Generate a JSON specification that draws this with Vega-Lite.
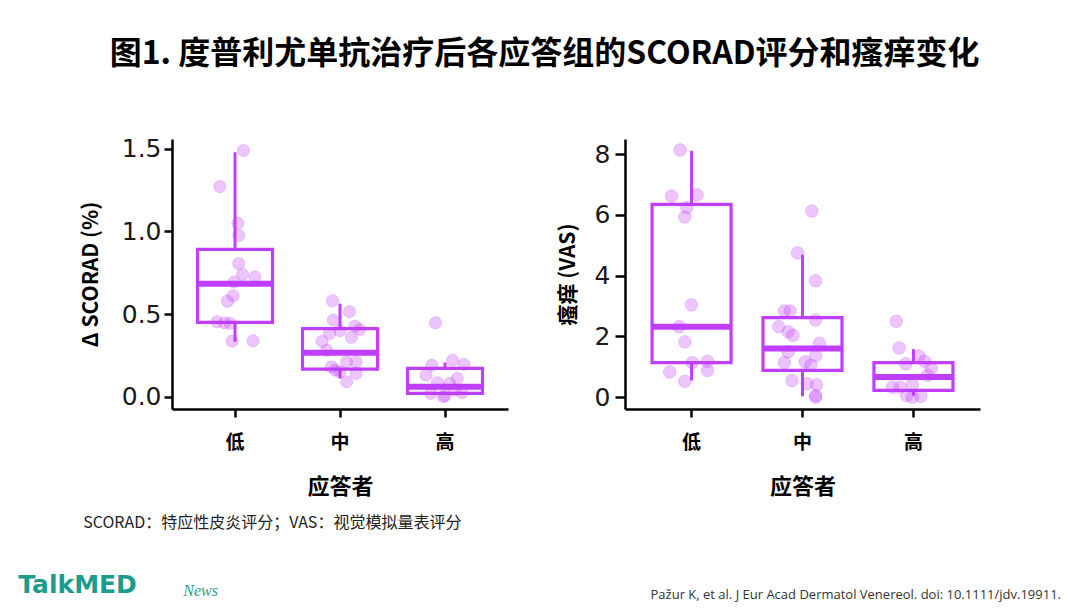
{
  "$schema": "https://vega.github.io/schema/vega-lite/v6.json",
  "background": "white",
  "padding": {"left": 18, "top": 37, "right": 0, "bottom": 0},
  "title": {
    "text": "图1. 度普利尤单抗治疗后各应答组的SCORAD评分和瘙痒变化",
    "font": "Noto Sans CJK SC", "fontSize": 32, "fontWeight": "bold", "color": "black",
    "anchor": "middle", "offset": 66, "dx": 5
  },
  "datasets": {
    "scoradBox": [
      {"g": "低", "lower": 0.332, "q1": 0.449, "median": 0.684, "q3": 0.892, "upper": 1.48},
      {"g": "中", "lower": 0.11, "q1": 0.167, "median": 0.266, "q3": 0.412, "upper": 0.563},
      {"g": "高", "lower": 0.01, "q1": 0.02, "median": 0.06, "q3": 0.171, "upper": 0.207}
    ],
    "vasBox": [
      {"g": "低", "lower": 0.55, "q1": 1.14, "median": 2.32, "q3": 6.35, "upper": 8.11},
      {"g": "中", "lower": 0.03, "q1": 0.88, "median": 1.6, "q3": 2.62, "upper": 4.69},
      {"g": "高", "lower": 0.05, "q1": 0.22, "median": 0.66, "q3": 1.14, "upper": 1.58}
    ],
    "scoradPts": [
      {"g": "低", "dx": 9, "v": 1.49}, {"g": "低", "dx": -16, "v": 1.272}, {"g": "低", "dx": 3, "v": 1.05},
      {"g": "低", "dx": 4, "v": 0.976}, {"g": "低", "dx": 4, "v": 0.805}, {"g": "低", "dx": 8, "v": 0.739},
      {"g": "低", "dx": 21, "v": 0.725}, {"g": "低", "dx": -1, "v": 0.694}, {"g": "低", "dx": -2, "v": 0.61},
      {"g": "低", "dx": -8, "v": 0.578}, {"g": "低", "dx": -19, "v": 0.453}, {"g": "低", "dx": -11, "v": 0.447},
      {"g": "低", "dx": -5, "v": 0.443}, {"g": "低", "dx": -3, "v": 0.336}, {"g": "低", "dx": 19, "v": 0.338},
      {"g": "中", "dx": -8, "v": 0.58}, {"g": "中", "dx": 10, "v": 0.515}, {"g": "中", "dx": -7, "v": 0.463},
      {"g": "中", "dx": 16, "v": 0.427}, {"g": "中", "dx": 21, "v": 0.406}, {"g": "中", "dx": 0, "v": 0.4},
      {"g": "中", "dx": -11, "v": 0.382}, {"g": "中", "dx": 12, "v": 0.358}, {"g": "中", "dx": -19, "v": 0.335},
      {"g": "中", "dx": -14, "v": 0.28}, {"g": "中", "dx": -9, "v": 0.18}, {"g": "中", "dx": 17, "v": 0.21},
      {"g": "中", "dx": 7, "v": 0.21}, {"g": "中", "dx": 0, "v": 0.15}, {"g": "中", "dx": 17, "v": 0.14},
      {"g": "中", "dx": -5, "v": 0.16}, {"g": "中", "dx": 7, "v": 0.09},
      {"g": "高", "dx": -10, "v": 0.447}, {"g": "高", "dx": 8, "v": 0.22}, {"g": "高", "dx": 20, "v": 0.195},
      {"g": "高", "dx": -14, "v": 0.19}, {"g": "高", "dx": -20, "v": 0.13}, {"g": "高", "dx": 13, "v": 0.11},
      {"g": "高", "dx": -8, "v": 0.085}, {"g": "高", "dx": 5, "v": 0.08}, {"g": "高", "dx": -15, "v": 0.02},
      {"g": "高", "dx": -2, "v": 0.0}, {"g": "高", "dx": 18, "v": 0.024}, {"g": "高", "dx": 0, "v": 0.005},
      {"g": "高", "dx": 10, "v": 0.04}
    ],
    "vasPts": [
      {"g": "低", "dx": -9, "v": 8.14}, {"g": "低", "dx": -18, "v": 6.62}, {"g": "低", "dx": 9, "v": 6.66},
      {"g": "低", "dx": -2, "v": 6.24}, {"g": "低", "dx": -4, "v": 5.93}, {"g": "低", "dx": 3, "v": 3.04},
      {"g": "低", "dx": -10, "v": 2.32}, {"g": "低", "dx": -4, "v": 1.82}, {"g": "低", "dx": 4, "v": 1.14},
      {"g": "低", "dx": 20, "v": 1.18}, {"g": "低", "dx": 20, "v": 0.88}, {"g": "低", "dx": -20, "v": 0.83},
      {"g": "低", "dx": -4, "v": 0.52},
      {"g": "中", "dx": 13, "v": 6.13}, {"g": "中", "dx": -2, "v": 4.75}, {"g": "中", "dx": 17, "v": 3.83},
      {"g": "中", "dx": -16, "v": 2.84}, {"g": "中", "dx": -10, "v": 2.84}, {"g": "中", "dx": 17, "v": 2.54},
      {"g": "中", "dx": -22, "v": 2.32}, {"g": "中", "dx": -12, "v": 2.15}, {"g": "中", "dx": -7, "v": 2.04},
      {"g": "中", "dx": 21, "v": 1.77}, {"g": "中", "dx": -12, "v": 1.49}, {"g": "中", "dx": 17, "v": 1.36},
      {"g": "中", "dx": -16, "v": 1.14}, {"g": "中", "dx": 6, "v": 1.16}, {"g": "中", "dx": 12, "v": 1.05},
      {"g": "中", "dx": -8, "v": 0.55}, {"g": "中", "dx": 8, "v": 0.44}, {"g": "中", "dx": 18, "v": 0.41},
      {"g": "中", "dx": 17, "v": 0.05}, {"g": "中", "dx": 17, "v": 0.0},
      {"g": "高", "dx": -15, "v": 2.5}, {"g": "高", "dx": -12, "v": 1.62}, {"g": "高", "dx": -5, "v": 1.1},
      {"g": "高", "dx": 9, "v": 1.36}, {"g": "高", "dx": 15, "v": 1.18}, {"g": "高", "dx": 22, "v": 0.94},
      {"g": "高", "dx": 18, "v": 0.72}, {"g": "高", "dx": -19, "v": 0.33}, {"g": "高", "dx": -11, "v": 0.33},
      {"g": "高", "dx": 2, "v": 0.41}, {"g": "高", "dx": -4, "v": 0.05}, {"g": "高", "dx": 11, "v": 0.03},
      {"g": "高", "dx": 2, "v": 0.0}
    ]
  },
  "vconcat": [
    {
      "title": {
        "text": "TalkMED", "orient": "bottom", "anchor": "start", "frame": "bounds",
        "font": "DejaVu Sans", "fontSize": 25, "fontWeight": "bold", "color": "#1a9b8c",
        "offset": -29, "dx": -62
      },
      "vconcat": [
        {
          "title": {
            "text": "News", "orient": "bottom", "anchor": "start", "frame": "bounds",
            "font": "Liberation Serif", "fontSize": 16, "fontStyle": "italic", "fontWeight": "normal", "color": "#2a9d8f",
            "offset": -19, "dx": 103
          },
          "spacing": 49,
          "hconcat": [
            {
              "width": 336,
              "height": 270,
              "title": {
                "text": "SCORAD：特应性皮炎评分；VAS：视觉模拟量表评分", "orient": "bottom", "anchor": "start", "frame": "bounds",
                "font": "Noto Sans CJK SC", "fontSize": 16, "fontWeight": "normal", "color": "#222222",
                "offset": 18, "dx": 3
              },
              "layer": [
                {
                  "data": {"name": "scoradBox"},
                  "mark": {"type": "rule", "color": "#BF3EFF", "strokeWidth": 3},
                  "encoding": {
                    "x": {"field": "g", "type": "nominal", "sort": ["低", "中", "高"], "title": "应答者", "scale": {"paddingInner": 0, "paddingOuter": 0.1}},
                    "y": {"field": "lower", "type": "quantitative", "title": "Δ SCORAD (%)", "scale": {"domain": [-0.075, 1.56], "nice": false, "zero": false}, "axis": {"values": [0, 0.5, 1, 1.5], "format": ".1f"}},
                    "y2": {"field": "q1"}
                  }
                },
                {
                  "data": {"name": "scoradBox"},
                  "mark": {"type": "rule", "color": "#BF3EFF", "strokeWidth": 3},
                  "encoding": {
                    "x": {"field": "g", "type": "nominal", "sort": ["低", "中", "高"], "title": "应答者"},
                    "y": {"field": "q3", "type": "quantitative", "title": "Δ SCORAD (%)"},
                    "y2": {"field": "upper"}
                  }
                },
                {
                  "data": {"name": "scoradBox"},
                  "mark": {"type": "bar", "fill": "transparent", "stroke": "#BF3EFF", "strokeWidth": 3.2, "width": 75},
                  "encoding": {
                    "x": {"field": "g", "type": "nominal", "sort": ["低", "中", "高"], "title": "应答者"},
                    "y": {"field": "q1", "type": "quantitative", "title": "Δ SCORAD (%)"},
                    "y2": {"field": "q3"}
                  }
                },
                {
                  "data": {"name": "scoradBox"},
                  "mark": {"type": "tick", "color": "#BF3EFF", "thickness": 6, "size": 75, "opacity": 1},
                  "encoding": {
                    "x": {"field": "g", "type": "nominal", "sort": ["低", "中", "高"], "title": "应答者"},
                    "y": {"field": "median", "type": "quantitative", "title": "Δ SCORAD (%)"}
                  }
                },
                {
                  "data": {"name": "scoradPts"},
                  "mark": {"type": "circle", "size": 150, "color": "#BF3EFF", "fillOpacity": 0.3, "stroke": "#BF3EFF", "strokeOpacity": 0.22, "strokeWidth": 1},
                  "encoding": {
                    "x": {"field": "g", "type": "nominal", "sort": ["低", "中", "高"], "title": "应答者"},
                    "xOffset": {"field": "dx", "type": "quantitative", "scale": {"domain": [-52.5, 52.5], "range": [0, 105]}},
                    "y": {"field": "v", "type": "quantitative", "title": "Δ SCORAD (%)"}
                  }
                }
              ]
            },
            {
              "width": 355,
              "height": 270,
              "title": {
                "text": "Pažur K, et al. J Eur Acad Dermatol Venereol. doi: 10.1111/jdv.19911.", "orient": "bottom", "anchor": "end", "frame": "bounds",
                "font": "Open Sans", "fontSize": 13, "fontWeight": "normal", "color": "#333333",
                "offset": 92, "dx": 81
              },
              "layer": [
                {
                  "data": {"name": "vasBox"},
                  "mark": {"type": "rule", "color": "#BF3EFF", "strokeWidth": 3},
                  "encoding": {
                    "x": {"field": "g", "type": "nominal", "sort": ["低", "中", "高"], "title": "应答者", "scale": {"paddingInner": 0, "paddingOuter": 0.1}},
                    "y": {"field": "lower", "type": "quantitative", "title": "瘙痒 (VAS)", "scale": {"domain": [-0.39, 8.5], "nice": false, "zero": false}, "axis": {"values": [0, 2, 4, 6, 8], "format": "d", "tickSize": 10, "labelPadding": 5, "titlePadding": 16}},
                    "y2": {"field": "q1"}
                  }
                },
                {
                  "data": {"name": "vasBox"},
                  "mark": {"type": "rule", "color": "#BF3EFF", "strokeWidth": 3},
                  "encoding": {
                    "x": {"field": "g", "type": "nominal", "sort": ["低", "中", "高"], "title": "应答者"},
                    "y": {"field": "q3", "type": "quantitative", "title": "瘙痒 (VAS)"},
                    "y2": {"field": "upper"}
                  }
                },
                {
                  "data": {"name": "vasBox"},
                  "mark": {"type": "bar", "fill": "transparent", "stroke": "#BF3EFF", "strokeWidth": 3.2, "width": 79},
                  "encoding": {
                    "x": {"field": "g", "type": "nominal", "sort": ["低", "中", "高"], "title": "应答者"},
                    "y": {"field": "q1", "type": "quantitative", "title": "瘙痒 (VAS)"},
                    "y2": {"field": "q3"}
                  }
                },
                {
                  "data": {"name": "vasBox"},
                  "mark": {"type": "tick", "color": "#BF3EFF", "thickness": 6, "size": 79, "opacity": 1},
                  "encoding": {
                    "x": {"field": "g", "type": "nominal", "sort": ["低", "中", "高"], "title": "应答者"},
                    "y": {"field": "median", "type": "quantitative", "title": "瘙痒 (VAS)"}
                  }
                },
                {
                  "data": {"name": "vasPts"},
                  "mark": {"type": "circle", "size": 160, "color": "#BF3EFF", "fillOpacity": 0.3, "stroke": "#BF3EFF", "strokeOpacity": 0.22, "strokeWidth": 1},
                  "encoding": {
                    "x": {"field": "g", "type": "nominal", "sort": ["低", "中", "高"], "title": "应答者"},
                    "xOffset": {"field": "dx", "type": "quantitative", "scale": {"domain": [-55.5, 55.5], "range": [0, 111]}},
                    "y": {"field": "v", "type": "quantitative", "title": "瘙痒 (VAS)"}
                  }
                }
              ]
            }
          ]
        }
      ]
    }
  ],
  "config": {
    "view": {"stroke": null},
    "axis": {
      "grid": false,
      "domainColor": "black", "domainWidth": 2.5,
      "tickColor": "black", "tickWidth": 2.5, "tickSize": 8,
      "labelColor": "#1a1a1a",
      "titleColor": "black", "titleFont": "Noto Sans CJK SC", "titleFontWeight": "bold", "titleFontSize": 22
    },
    "axisY": {"labelFont": "DejaVu Sans", "labelFontSize": 25, "labelPadding": 3, "titlePadding": 20, "titleFontSize": 21},
    "axisX": {"labelFont": "Noto Sans CJK SC", "labelFontWeight": "bold", "labelFontSize": 19, "labelAngle": 0, "labelPadding": 16, "titlePadding": 24, "labelColor": "black"}
  }
}
